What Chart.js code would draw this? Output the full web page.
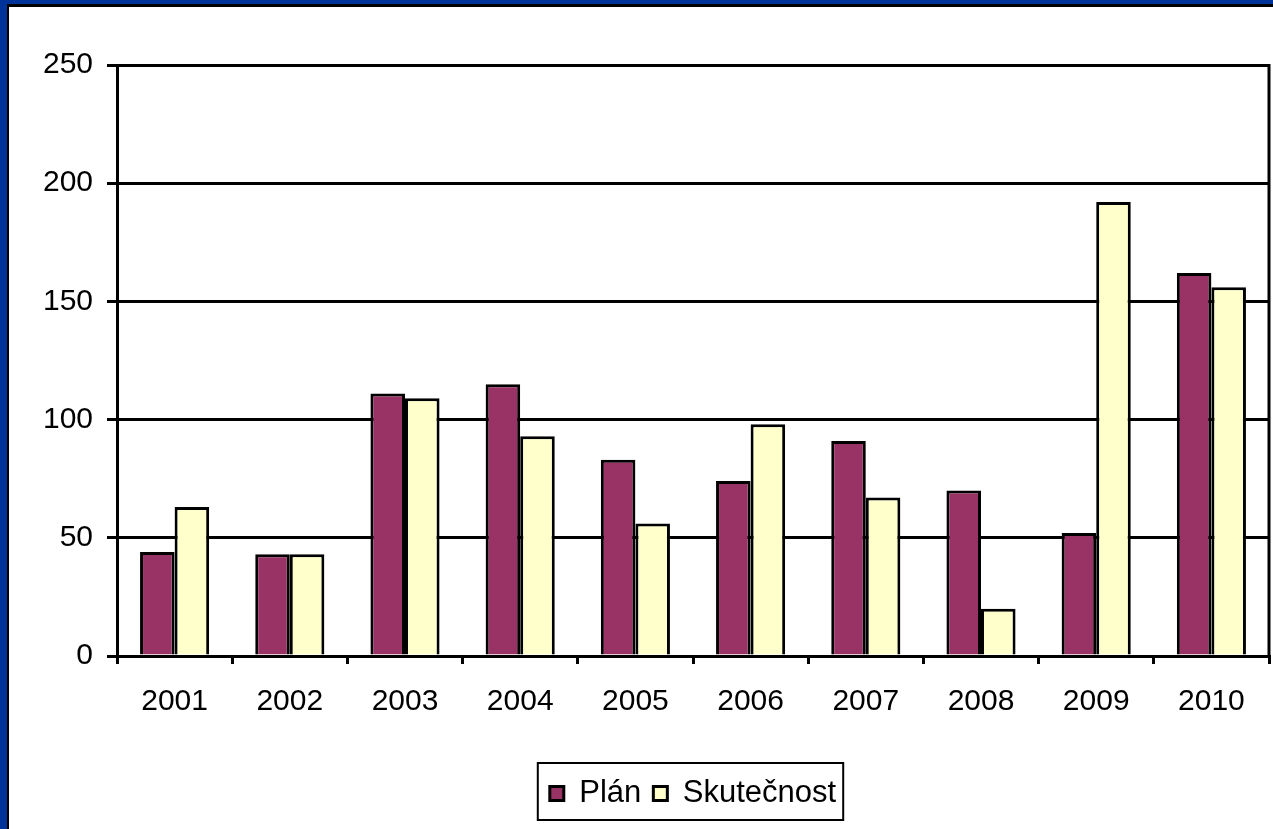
<!DOCTYPE html>
<html>
<head>
<meta charset="utf-8">
<script src="https://cdn.jsdelivr.net/npm/chart.js@4.4.1/dist/chart.umd.min.js"></script>
<style>
    body { margin: 0; background: #00339a; width: 1273px; height: 829px; overflow: hidden; position: relative; }
    #ramecek { position: absolute; left: 7px; top: 4px; width: 1280px; height: 840px; background: #fff; border-left: 2px solid #000; border-top: 3px solid #000; }
    #graf { position: absolute; left: 0; top: 0; }
</style>
</head>
<body>
<div id="ramecek"></div>
<canvas id="graf" width="1273" height="829"></canvas>
<script>
const roky = ['2001', '2002', '2003', '2004', '2005', '2006', '2007', '2008', '2009', '2010'];
const plan = [44, 43, 111, 115, 83, 74, 91, 70, 52, 162];
const skutecnost = [63, 43, 109, 93, 56, 98, 67, 20, 192, 156];
const osaY = [0, 50, 100, 150, 200, 250];

const pismo = { family: '"Liberation Sans", Arial, sans-serif', size: 30 };
const pismoLegenda = { family: '"Liberation Sans", Arial, sans-serif', size: 31 };

// ramecek kolem legendy a prava hrana grafu
const ramecky = {
    id: 'ramecky',
    afterDraw(chart) {
        const ctx = chart.ctx;
        const a = chart.chartArea;
        ctx.save();
        ctx.strokeStyle = '#000';
        ctx.lineWidth = 3;
        ctx.beginPath();
        ctx.moveTo(a.right, a.top - 1);
        ctx.lineTo(a.right, a.bottom + 1);
        ctx.stroke();

        const boxy = chart.legend.legendHitBoxes;
        if (boxy && boxy.length) {
            const l = Math.min(...boxy.map(b => b.left));
            const r = Math.max(...boxy.map(b => b.left + b.width));
            const t = Math.min(...boxy.map(b => b.top));
            const d = Math.max(...boxy.map(b => b.top + b.height));
            ctx.lineWidth = 2;
            ctx.strokeRect(l - 12, t - 15, r - l + 19, d - t + 26);
        }
        ctx.restore();
    }
};

new Chart(document.getElementById('graf'), {
    type: 'bar',
    data: {
        labels: roky,
        datasets: [{
            label: 'Plán',
            data: plan,
            backgroundColor: '#993366',
            borderColor: '#000',
            borderWidth: 3
        }, {
            label: 'Skutečnost',
            data: skutecnost,
            backgroundColor: '#ffffcc',
            borderColor: '#000',
            borderWidth: 3
        }]
    },
    options: {
        responsive: false,
        animation: false,
        categoryPercentage: 0.6,
        barPercentage: 1,
        layout: { padding: { left: 0, right: 4, top: 65, bottom: 10 } },
        scales: {
            x: {
                grid: { display: true, drawOnChartArea: false, offset: true, color: '#000', lineWidth: 3, tickLength: 8 },
                border: { color: '#000', width: 3 },
                ticks: { color: '#000', font: pismo, padding: 20 },
                afterFit: s => { s.height = 110; }
            },
            y: {
                min: 0,
                max: 250,
                afterBuildTicks: s => { s.ticks = osaY.map(v => ({ value: v })); },
                grid: { color: '#000', lineWidth: 3, tickLength: 10 },
                border: { color: '#000', width: 3 },
                ticks: { color: '#000', font: pismo, padding: 14 },
                afterFit: s => { s.width = 117; }
            }
        },
        plugins: {
            legend: {
                position: 'bottom',
                fullSize: false,
                labels: { color: '#000', font: pismoLegenda, boxWidth: 14, boxHeight: 14, padding: 12, useBorderRadius: false }
            },
            tooltip: { enabled: false }
        }
    },
    plugins: [ramecky]
});
</script>
</body>
</html>
